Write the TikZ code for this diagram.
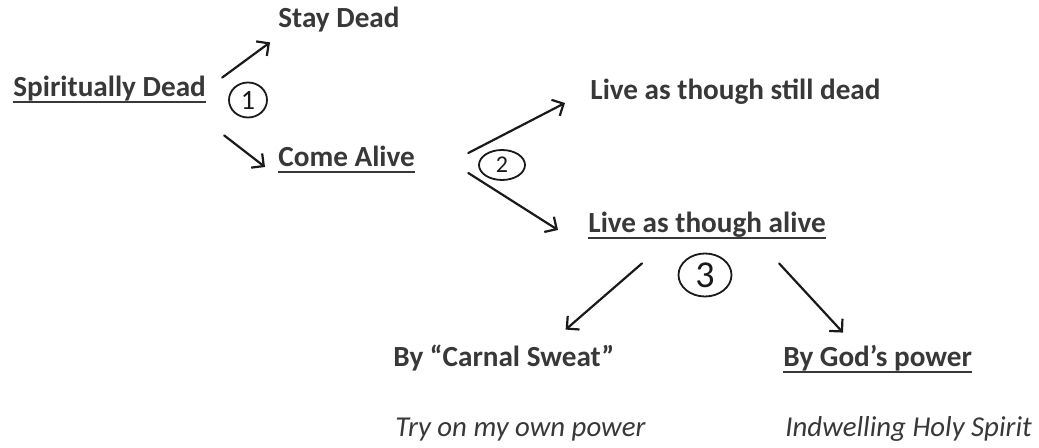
\documentclass[tikz,border=0pt]{standalone}
\usepackage{fontspec}
\setmainfont{Carlito}
\usepackage{tikz}
\usetikzlibrary{calc,arrows.meta,shapes.geometric}
\definecolor{ink}{HTML}{383838}
\definecolor{pen}{HTML}{1A1A1A}
\tikzset{
  lab/.style={inner sep=0pt, anchor=base west, text=ink, text height=9.5pt, text depth=3pt,
    font=\fontsize{14.6}{17}\selectfont\bfseries},
  note/.style={lab, font=\fontsize{14.4}{17}\selectfont\itshape},
  uline/.style={draw=ink, line width=1.1pt},
  hand/.style={draw=pen, line width=1.1pt, line cap=round, line join=round,
    -{Straight Barb[length=4.5pt,width=9pt]}},
  num/.style={ellipse, draw=pen, line width=0.9pt, inner sep=0pt, text=pen},
}

\begin{document}
\begin{tikzpicture}[x=0.5pt,y=-0.5pt]
  \fill[white] (0,0) rectangle (1039,448);
  \useasboundingbox (0,0) rectangle (1039,448);
  % the texts
  \node[lab] (stay)  at (278,28)  {Stay Dead};
  \node[lab] (dead)  at (13,97)   {Spiritually Dead};
  \node[lab] (come)  at (278,167) {Come Alive};
  \node[lab] (still) at (590,100) {Live as though still dead};
  \node[lab] (alive) at (588,233) {Live as though alive};
  \node[lab] (carnal) at (393,367) {By “Carnal Sweat”};
  \node[lab] (god)   at (783,367) {By God’s power};
  \node[note] (own)  at (395,437) {Try on my own power};
  \node[note] (holy) at (785,437) {Indwelling Holy Spirit};
  \foreach \n in {dead,come,alive,god}
    \draw[uline] ($(\n.base west)+(0,5)$) -- ($(\n.base east)+(0,5)$);
  % the choices
  \node[num, minimum width=19pt, minimum height=17.5pt, font=\fontsize{14}{14}\selectfont] (c1) at (248,100) {1};
  \node[num, minimum width=23pt, minimum height=15pt, font=\fontsize{12}{12}\selectfont] (c2) at (502,165) {2};
  \node[num, minimum width=26.5pt, minimum height=21.5pt, font=\fontsize{19}{19}\selectfont] (c3) at (705,275) {3};
  % the arrows
  \draw[hand] ($(dead.north east)+(16,0)$) -- ($(stay.south west)+(-8,8)$);
  \draw[hand] ($(dead.south east)+(18,32)$) -- ($(come.base west)+(-13,0)$);
  \draw[hand] ($(come.east)+(53,-7.5)$) -- ($(still.base west)+(-25,3)$);
  \draw[hand] ($(come.east)+(53,12.5)$) -- ($(alive.base west)+(-30,-3)$);
  \draw[hand] ($(alive.south west)+(54,24)$) -- ($(carnal.north east)+(-49,-18)$);
  \draw[hand] ($(alive.south east)+(-47,24)$) -- ($(god.north west)+(60,-15)$);
\end{tikzpicture}
\end{document}
